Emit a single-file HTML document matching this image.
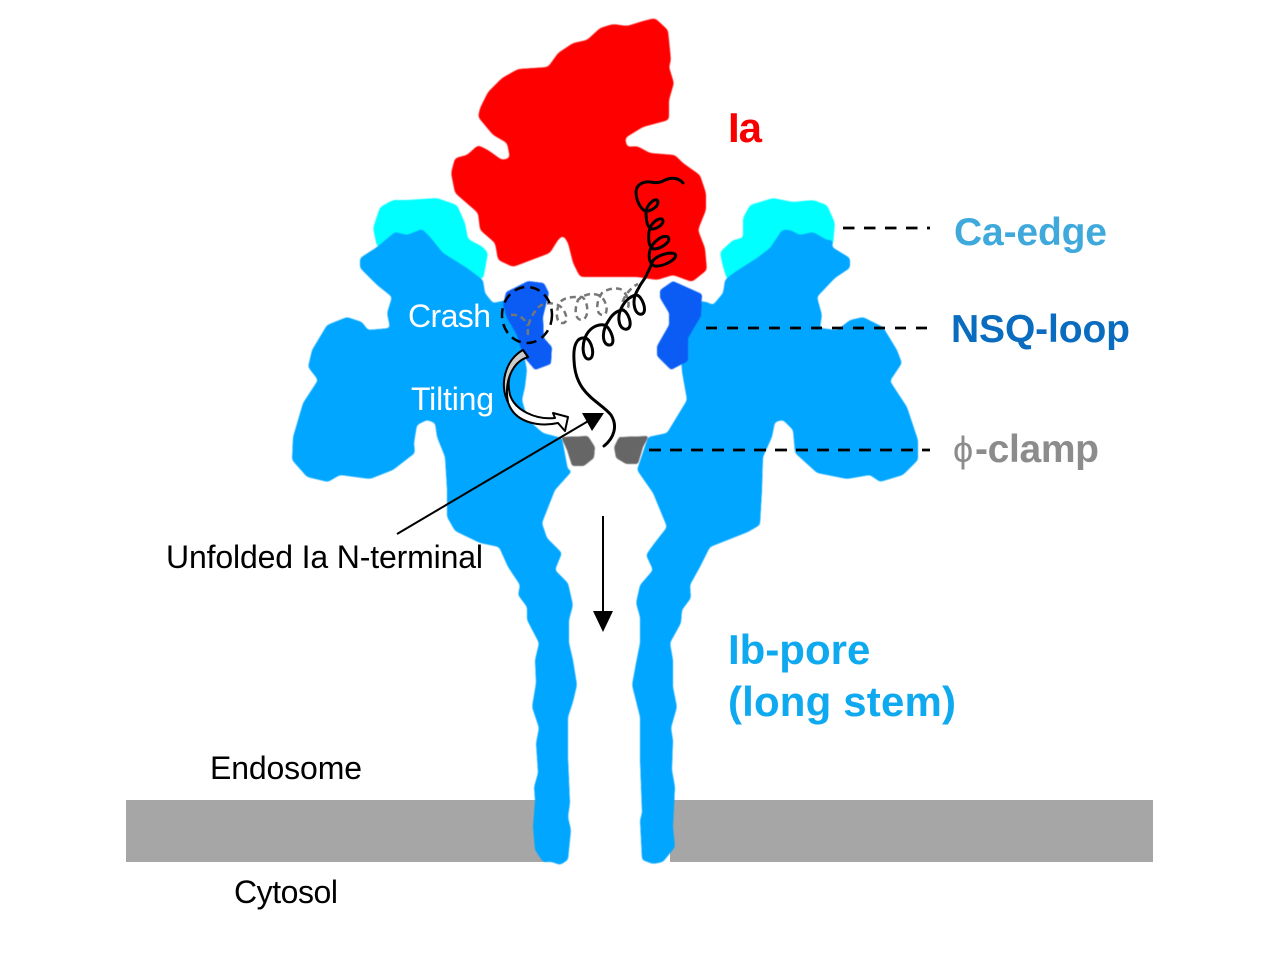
<!DOCTYPE html>
<html><head><meta charset="utf-8"><style>
html,body{margin:0;padding:0;background:#fff}
svg{display:block}
text{font-family:"Liberation Sans",Arial,sans-serif}
.b{font-weight:bold;font-size:39px}
.r{font-size:32px}
</style></head><body>
<svg width="1278" height="959" viewBox="0 0 1278 959" xmlns="http://www.w3.org/2000/svg">
<defs>
<filter id="g" filterUnits="userSpaceOnUse" x="0" y="0" width="1278" height="959" color-interpolation-filters="sRGB">
<feGaussianBlur stdDeviation="2.2"/>
<feColorMatrix type="matrix" values="1 0 0 0 0  0 1 0 0 0  0 0 1 0 0  0 0 0 14 -6.5"/>
<feGaussianBlur stdDeviation="0.5"/>
</filter>
<filter id="b" filterUnits="userSpaceOnUse" x="0" y="0" width="1278" height="959" color-interpolation-filters="sRGB">
<feGaussianBlur stdDeviation="1.9"/>
<feColorMatrix type="matrix" values="1 0 0 0 0  0 1 0 0 0  0 0 1 0 0  0 0 0 14 -6.5"/>
<feGaussianBlur stdDeviation="0.5"/>
</filter>
<filter id="h" filterUnits="userSpaceOnUse" x="0" y="0" width="1278" height="959" color-interpolation-filters="sRGB">
<feGaussianBlur stdDeviation="1.3"/>
<feColorMatrix type="matrix" values="1 0 0 0 0  0 1 0 0 0  0 0 1 0 0  0 0 0 14 -6.5"/>
<feGaussianBlur stdDeviation="0.5"/>
</filter>
<filter id="t" filterUnits="userSpaceOnUse" x="0" y="0" width="1278" height="959" color-interpolation-filters="sRGB"><feGaussianBlur stdDeviation="0.35"/></filter>
</defs>
<rect width="1278" height="959" fill="#fff"/>
<rect x="126" y="800" width="420" height="62" fill="#a6a6a6"/>
<rect x="670" y="800" width="483" height="62" fill="#a6a6a6"/>
<!-- cyan -->
<polygon filter="url(#g)" fill="#00ffff" points="377,247 373,228 380,207 393,200 407,200 437,198 457,205 465,223 468,239 483,247 488,253 483,280 440,260 400,245"/>
<polygon filter="url(#g)" fill="#00ffff" points="727,280 722,263 720,252 733,240 743,238 743,218 750,205 773,198 793,202 813,200 827,205 835,223 833,245 800,250 760,265"/>
<!-- blue left -->
<polygon filter="url(#b)" fill="#00a6ff" points="377,247 395,232 407,235 422,229 430,237 443,253 467,268 483,280 485,293 493,303 507,300 515,320 522,345 527,370 525,387 522,400 528,420 543,433 562,438 568,470 573,470 555,490 542,523 547,538 562,553 555,570 568,583 573,605 569,620 569,643 573,660 577,685 573,702 568,717 568,757 570,803 568,817 571,830 568,860 560,865 552,862 543,862 535,850 533,827 535,800 534,787 538,773 536,743 539,728 532,707 536,683 535,660 539,643 527,620 527,607 518,595 520,585 508,567 499,547 480,543 455,531 447,517 447,490 445,457 437,437 435,423 427,420 417,425 414,443 415,453 393,470 370,479 340,475 328,482 307,477 292,460 293,437 303,403 318,380 308,367 312,350 327,325 347,317 362,322 368,330 390,328 387,313 392,297 377,285 360,268 360,258"/>
<!-- blue right -->
<polygon filter="url(#b)" fill="#00a6ff" points="727,278 735,272 757,258 770,248 782,230 790,230 800,235 813,232 827,240 833,240 832,247 850,258 850,268 835,278 817,297 822,315 820,328 837,330 850,320 863,317 883,327 897,350 902,363 890,381 907,407 918,440 918,460 903,475 880,482 870,475 847,479 817,473 795,453 793,430 783,420 775,422 772,437 763,457 762,490 760,525 748,532 710,547 700,567 690,585 691,598 682,610 681,623 670,643 673,660 673,687 677,707 671,728 673,740 672,770 675,787 673,827 675,847 663,862 653,864 642,860 640,820 642,813 640,760 640,717 632,685 636,663 640,643 640,617 636,603 640,585 653,570 646,555 653,545 667,527 653,493 637,470 648,437 667,433 687,400 682,372 680,340 690,300 707,302 713,305 723,293 725,280"/>
<!-- red -->
<polygon filter="url(#g)" fill="#ff0000" points="655,18 668,30 670,50 671,60 669,67 674,83 669,100 669,120 643,127 625,138 627,147 637,146 650,153 675,155 683,163 700,175 706,193 706,210 698,230 705,248 707,270 692,282 673,275 657,280 637,277 613,277 580,277 573,263 568,243 563,235 558,240 550,253 513,267 498,260 495,243 480,230 478,213 455,193 451,173 455,158 467,155 478,145 488,150 502,160 510,158 507,143 493,135 478,117 480,108 488,92 502,78 518,69 548,67 558,53 573,43 587,40 600,28 613,24 627,26 643,21"/>
<!-- NSQ -->
<polygon filter="url(#h)" fill="#0a5cf5" points="506,292 528,281 544,283 549,293 543,317 544,338 552,347 551,364 535,370 523,356 517,335 507,318 503,305"/>
<polygon filter="url(#h)" fill="#0a5cf5" points="660,290 673,281 702,294 701,316 688,338 688,361 671,370 657,356 657,346 669,325 669,313 660,298"/>
<!-- clamps -->
<polygon filter="url(#h)" fill="#666" points="561,437 588,436 595,447 594,458 584,466 572,466 567,450"/>
<polygon filter="url(#h)" fill="#666" points="614,447 619,437 649,436 643,447 638,464 626,464 616,458"/>
<!-- gray dashed coil -->
<path d="M511,315 C518,314 525,318 528,326 M528,335 C527,325 531,314 540,306 C546,302 553,303 558,305 C565,308 570,322 563,323 C556,324 555,312 560,302 C565,297 572,297 582,297 C588,300 590,318 582,320 C575,320 574,310 578,300 C584,294 592,293 598,295 C606,297 610,314 603,315 C596,315 595,303 602,293 C608,288 617,288 620,289 C628,292 632,309 625,310 C617,310 625,290 638,284" fill="none" stroke="#777" stroke-width="2.5" stroke-dasharray="6 4"/>
<!-- dashed circle -->
<ellipse cx="527" cy="315" rx="25" ry="28" fill="none" stroke="#000" stroke-width="2.5" stroke-dasharray="10 6"/>
<!-- curved arrow -->
<path d="M523,350 C505,360 499,385 510,407 C518,423 540,427 558,423 L565,431 L568,417 L553,413 L555,418 C535,420 515,410 510,395 C505,375 515,360 528,357 Z" fill="#fff" stroke="#000" stroke-width="2" stroke-linejoin="round"/>
<path d="M523,350 C505,360 499,385 508,402 C504,382 512,362 528,357 Z" fill="#ccc" stroke="#000" stroke-width="2" stroke-linejoin="round"/>
<!-- coil -->
<path d="M604,446 C614,438 618,426 611,415 C600,401 575,395 574,360 C573,345 577,337 585,338 C592,339 596,358 589,359 C582,360 580,340 590,330 C594,326 600,324 604,325 C610,326 617,344 610,345 C603,346 600,333 609,320 C612,315 616,311 622,310 C628,310 634,327 627,329 C620,331 615,318 623,305 C626,300 631,296 636,295 C642,295 648,312 642,314 C635,316 631,302 637,291 C640,285 642,282 645,278 C648,272 650,268 652,263 C654,256 670,251 675,254 C679,258 664,267 655,266 C650,265 648,258 650,250 C652,243 662,234 668,237 C672,242 660,249 654,249 C649,248 648,240 649,232 C650,224 657,218 662,219 C666,223 657,229 652,229 C647,228 646,220 646,212 C647,205 653,199 657,200 C661,205 651,212 645,211 C640,208 636,200 636,192 C636,185 643,181 650,182 C656,183 660,183 665,180 C672,177 679,178 683,183" fill="none" stroke="#000" stroke-width="3" stroke-linecap="round" stroke-linejoin="round"/>
<!-- pointer -->
<line x1="397" y1="534" x2="590" y2="420" stroke="#000" stroke-width="2"/>
<polygon points="582,413 604,413 592,431" fill="#000"/>
<!-- down arrow -->
<line x1="603" y1="516" x2="603" y2="612" stroke="#000" stroke-width="2"/>
<polygon points="593,611 613,611 603,632" fill="#000"/>
<!-- dashes -->
<line x1="843" y1="228" x2="930" y2="228" stroke="#000" stroke-width="2.8" stroke-dasharray="11.5 9.5"/>
<line x1="706" y1="328" x2="928" y2="328" stroke="#000" stroke-width="2.8" stroke-dasharray="11 10"/>
<line x1="649" y1="450" x2="930" y2="450" stroke="#000" stroke-width="2.8" stroke-dasharray="12 9"/>
<!-- text -->
<g filter="url(#t)">
<text x="728" y="142" font-size="42" font-weight="bold" fill="#f80000" textLength="34">Ia</text>
<text x="954" y="245" class="b" fill="#3fa9dc" textLength="153">Ca-edge</text>
<text x="951" y="342" class="b" fill="#0a6cbf" textLength="179">NSQ-loop</text>
<text x="953" y="462" font-size="36" fill="#8c8c8c">ϕ</text>
<text x="975" y="462" class="b" fill="#8c8c8c" textLength="124">-clamp</text>
<text x="728" y="664" font-size="42" font-weight="bold" fill="#0fa9f0">Ib-pore</text>
<text x="728" y="716" font-size="42" font-weight="bold" fill="#0fa9f0" textLength="228">(long stem)</text>
<text x="408" y="327" class="r" fill="#fff" textLength="83">Crash</text>
<text x="411" y="410" class="r" fill="#fff" textLength="83">Tilting</text>
<text x="166" y="568" class="r" fill="#000" textLength="317">Unfolded Ia N-terminal</text>
<text x="210" y="779" class="r" fill="#000" textLength="152">Endosome</text>
<text x="234" y="903" class="r" fill="#000" textLength="104">Cytosol</text>
</g>
</svg>
</body></html>
